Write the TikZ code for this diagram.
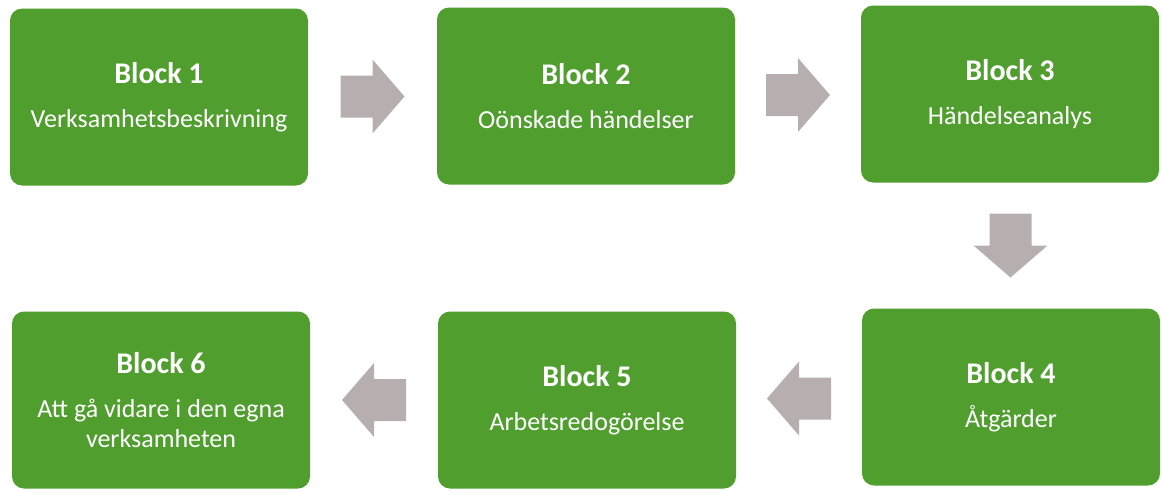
\documentclass[tikz,border=0pt]{standalone}
\usepackage{fontspec}
\setmainfont{Carlito}
\usetikzlibrary{calc}
\definecolor{boxgreen}{HTML}{4F9E2E}
\definecolor{arrowgray}{HTML}{B7AFAF}
\tikzset{
  blockbox/.style={rounded corners=12pt, fill=boxgreen, text=white, align=center,
    minimum width=298pt, minimum height=177pt, inner sep=0pt,
    font=\fontsize{26}{30}\selectfont},
  barrow/.pic={\fill[arrowgray] (-32,-21) -- (0,-21) -- (0,-37) -- (32,0) -- (0,37) -- (0,21) -- (-32,21) -- cycle;}
}
\newcommand{\blocktitle}[1]{{\fontsize{30}{34}\selectfont\bfseries #1}\\[14pt]}
\begin{document}
\begin{tikzpicture}[x=1pt,y=-1pt]
\useasboundingbox (0,0) rectangle (1162,490);
\node[blockbox] (b1) at (159,97) {\blocktitle{Block 1}Verksamhetsbeskrivning};
\node[blockbox] (b2) at (586,96) {\blocktitle{Block 2}Oönskade händelser};
\node[blockbox] (b3) at (1010,94) {\blocktitle{Block 3}Händelseanalys};
\node[blockbox] (b4) at (1011,397) {\blocktitle{Block 4}Åtgärder};
\node[blockbox] (b5) at (587,400) {\blocktitle{Block 5}Arbetsredogörelse};
\node[blockbox] (b6) at (161,400) {\blocktitle{Block 6}Att gå vidare i den egna\\verksamheten};
\coordinate (a12) at ($(b1.east)!0.5!(b2.west)$);
\coordinate (a23) at ($(b2.east)!0.5!(b3.west)$);
\coordinate (a34) at ($(b3.south)!0.5!(b4.north)$);
\coordinate (a45) at ($(b4.west)!0.5!(b5.east)$);
\coordinate (a56) at ($(b5.west)!0.5!(b6.east)$);
\pic at (a12) {barrow};
\pic at (a23) {barrow};
\pic[rotate=-90] at (a34) {barrow};
\pic[rotate=180] at (a45) {barrow};
\pic[rotate=180] at (a56) {barrow};
\end{tikzpicture}
\end{document}
